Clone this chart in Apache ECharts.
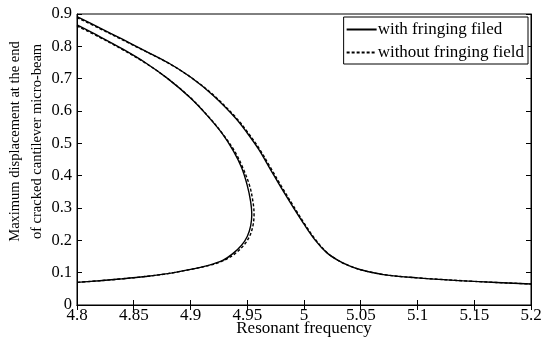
<!DOCTYPE html>
<html><head><meta charset="utf-8">
<script src="https://cdn.jsdelivr.net/npm/echarts@6/dist/echarts.min.js"></script>
<style>html,body{margin:0;padding:0;background:#fff}#c{width:542px;height:337px}</style>
</head><body><div id="c"></div>
<script>
// Upper (outer) branch, with fringing field
const withOuterX = [4.80,4.82,4.84,4.86,4.88,4.90,4.92,4.94,4.95,4.96,4.97,4.98,4.99,5.00,5.01,5.02,5.03,5.04,5.05,5.07,5.10,5.15,5.20];
const withOuterY = [0.892,0.857,0.822,0.786,0.750,0.705,0.648,0.577,0.532,0.482,0.422,0.362,0.305,0.250,0.200,0.162,0.138,0.121,0.109,0.094,0.084,0.073,0.065];
// Inner (folded) branch, with fringing field
const withInnerX = [4.800,4.820,4.840,4.860,4.880,4.900,4.915,4.928,4.938,4.945,4.950,4.953,4.954,4.953,4.950,4.945,4.937,4.928,4.915,4.900,4.880,4.860,4.840,4.820,4.800];
const withInnerY = [0.866,0.830,0.792,0.750,0.700,0.640,0.585,0.530,0.475,0.425,0.370,0.320,0.280,0.245,0.212,0.185,0.158,0.137,0.122,0.110,0.097,0.088,0.081,0.075,0.070];
// Without fringing field
const withoutOuterX = [4.80,4.82,4.84,4.86,4.88,4.90,4.92,4.94,4.95,4.96,4.97,4.98,4.99,5.00,5.01,5.02,5.03,5.04,5.05,5.07,5.10,5.15,5.20];
const withoutOuterY = [0.889,0.855,0.820,0.785,0.749,0.705,0.650,0.580,0.536,0.487,0.428,0.368,0.310,0.254,0.203,0.163,0.138,0.121,0.109,0.094,0.084,0.073,0.065];
const withoutInnerX = [4.800,4.820,4.840,4.860,4.880,4.900,4.915,4.928,4.939,4.946,4.952,4.955,4.956,4.955,4.952,4.947,4.939,4.929,4.916,4.900,4.880,4.860,4.840,4.820,4.800];
const withoutInnerY = [0.863,0.828,0.790,0.749,0.700,0.641,0.586,0.531,0.475,0.425,0.370,0.320,0.280,0.245,0.212,0.185,0.158,0.137,0.122,0.110,0.097,0.088,0.081,0.075,0.070];

const xTickLabels = ['4.8','4.85','4.9','4.95','5','5.05','5.1','5.15','5.2'];
const yTickLabels = ['0','0.1','0.2','0.3','0.4','0.5','0.6','0.7','0.8','0.9'];

const zip = (xs, ys) => xs.map((x, i) => [x, ys[i]]);
const FONT = '"Liberation Serif", "DejaVu Serif", serif';

const chart = echarts.init(document.getElementById('c'), null, {renderer: 'canvas'});
const tickInside = {show: true, inside: true, length: 5, lineStyle: {color: '#000', width: 1}};
const axLine = {show: true, lineStyle: {color: '#000', width: 1}};
const xFmt = v => { const i = Math.round((v - 4.8) / 0.05); return xTickLabels[i] !== undefined ? xTickLabels[i] : ''; };
const yFmt = v => { const i = Math.round(v / 0.1); return yTickLabels[i] !== undefined ? yTickLabels[i] : ''; };

const mk = (name, data, dashed) => ({
  name, type: 'line', data, showSymbol: false, symbol: 'none', smooth: 0.35,
  lineStyle: {color: '#000', width: 1.4, type: dashed ? [3, 2] : 'solid'},
  itemStyle: {color: '#000'}, animation: false, z: dashed ? 3 : 2
});

chart.setOption({
  animation: false,
  backgroundColor: '#fff',
  grid: {left: 77, right: 11, top: 14, bottom: 32, show: true, borderColor: '#000', borderWidth: 1,
         containLabel: false, outerBoundsMode: 'none'},
  legend: {
    orient: 'vertical', right: 14, top: 17,
    itemWidth: 30, itemHeight: 12, itemGap: 6,
    itemStyle: {opacity: 0},
    backgroundColor: '#fff', borderColor: '#000', borderWidth: 1, padding: [4, 4, 3, 2],
    textStyle: {fontFamily: FONT, fontSize: 17, color: '#000', padding: [0, 0, 0, -4]},
    data: [{name: 'with fringing filed'}, {name: 'without fringing field'}]
  },
  xAxis: [{
    type: 'value', min: 4.8, max: 5.2, interval: 0.05, position: 'bottom',
    axisLine: axLine, axisTick: tickInside, splitLine: {show: false},
    axisLabel: {formatter: xFmt, fontFamily: FONT, fontSize: 17, color: '#000', margin: 2},
    name: 'Resonant frequency', nameLocation: 'middle', nameGap: 15, nameMoveOverlap: false,
    nameTextStyle: {fontFamily: FONT, fontSize: 17, color: '#000'}
  }, {
    type: 'value', min: 4.8, max: 5.2, interval: 0.05, position: 'top',
    axisLine: axLine, axisTick: tickInside, axisLabel: {show: false}, splitLine: {show: false}
  }],
  yAxis: [{
    type: 'value', min: 0, max: 0.9, interval: 0.1, position: 'left',
    axisLine: axLine, axisTick: tickInside, splitLine: {show: false},
    axisLabel: {formatter: yFmt, fontFamily: FONT, fontSize: 16.5, color: '#000', margin: 5},
    name: 'Maximum displacement at the end\nof cracked cantilever micro-beam',
    nameLocation: 'middle', nameGap: 29, nameRotate: 90, nameMoveOverlap: false,
    nameTextStyle: {fontFamily: FONT, fontSize: 14.5, color: '#000', lineHeight: 22, padding: [0, 0, 0, 36]}
  }, {
    type: 'value', min: 0, max: 0.9, interval: 0.1, position: 'right',
    axisLine: axLine, axisTick: tickInside, axisLabel: {show: false}, splitLine: {show: false}
  }],
  series: [
    mk('with fringing filed', zip(withOuterX, withOuterY), false),
    mk('with fringing filed', zip(withInnerX, withInnerY), false),
    mk('without fringing field', zip(withoutOuterX, withoutOuterY), true),
    mk('without fringing field', zip(withoutInnerX, withoutInnerY), true)
  ]
});
</script></body></html>
